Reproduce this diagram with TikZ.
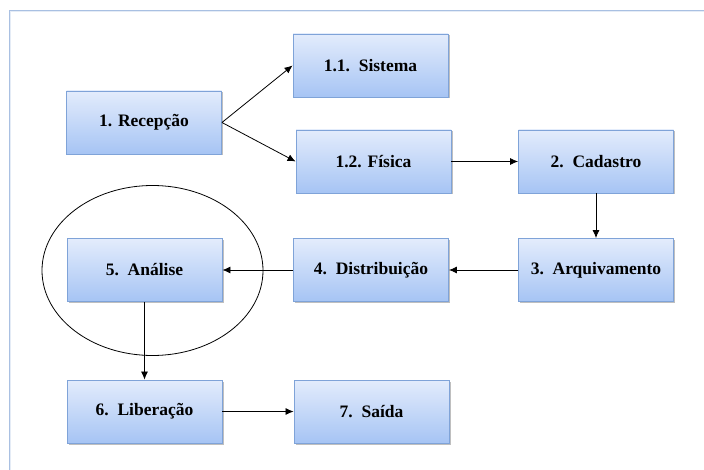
\documentclass[tikz,border=0pt]{standalone}
\usepackage{fontspec}
\setmainfont{Liberation Serif}
\usetikzlibrary{arrows.meta,shadows,positioning}
\definecolor{boxtop}{HTML}{E3ECFC}
\definecolor{boxbot}{HTML}{A6C4F4}
\definecolor{boxline}{HTML}{7FA3D8}
\definecolor{framec}{HTML}{A9C0E2}
\tikzset{
  procbox/.style={rectangle, draw=boxline, line width=0.9pt, top color=boxtop, bottom color=boxbot,
    minimum width=155pt, minimum height=63pt, inner sep=0pt,
    font=\fontsize{17.5}{19}\selectfont\bfseries,
    drop shadow={shadow xshift=1.5pt, shadow yshift=-1.5pt, fill=black, opacity=0.25}},
  flow/.style={draw=black, line width=0.8pt, -{Latex[length=8pt,width=7pt]}}
}
\begin{document}
\begin{tikzpicture}[x=1pt,y=-1pt]
\useasboundingbox (0,0) rectangle (704,470);
\fill[white] (0,0) rectangle (704,470);
\draw[framec, line width=1.8pt] (10,472) -- (10,11) -- (706,11);
\draw[white!70!framec, line width=0.6pt] (10,472) -- (10,11) -- (706,11);
\node[procbox] (rec) at (144,122.5) {1. Recepção};
\node[procbox] (sis) at (370.5,65.5) {1.1.\ \ Sistema};
\node[procbox] (fis) at (373.5,161.5) {1.2. Física};
\node[procbox] (cad) at (596,161.5) {2.\ \ Cadastro};
\node[procbox] (arq) at (596,270) {3.\ \ Arquivamento};
\node[procbox] (dis) at (371,270) {4.\ \ Distribuição};
\node[procbox] (ana) at (144.5,270) {5.\ \ Análise};
\node[procbox] (lib) at (144.5,411.5) {6.\ \ Liberação};
\node[procbox] (sai) at (371.5,411.5) {7.\ \ Saída};
\draw[black, line width=0.8pt] (152.5,270.5) ellipse (110.5 and 85);
\draw[flow] (rec.east) -- (sis.west);
\draw[flow] (rec.east) -- (fis.west);
\draw[flow] (fis) -- (cad);
\draw[flow] (cad) -- (arq);
\draw[flow] (arq) -- (dis);
\draw[flow] (dis) -- (ana);
\draw[flow] (ana) -- (lib);
\draw[flow] (lib) -- (sai);
\end{tikzpicture}
\end{document}
